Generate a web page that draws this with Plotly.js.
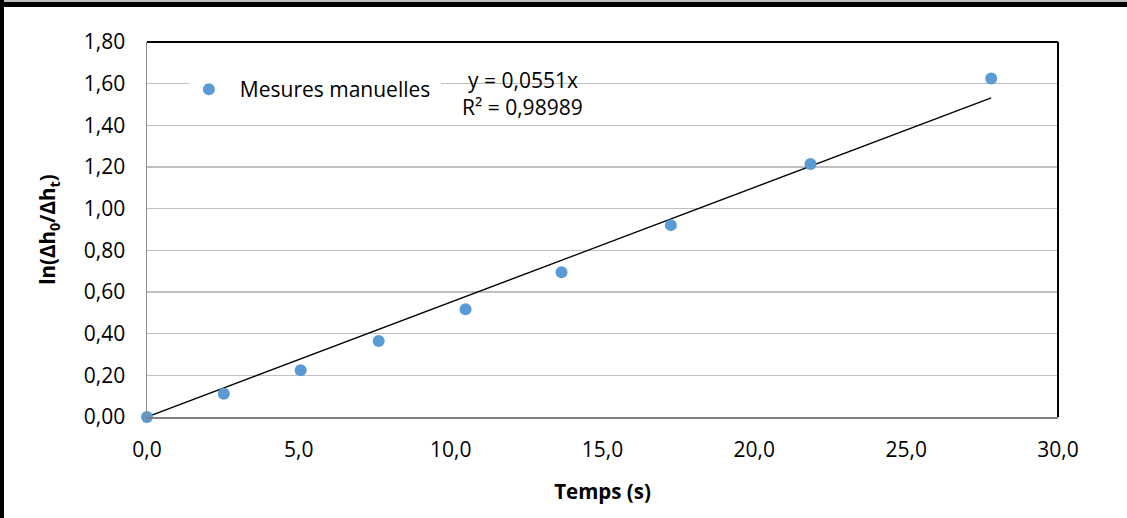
<!DOCTYPE html>
<html>
<head>
<meta charset="utf-8">
<script src="https://cdn.plot.ly/plotly-3.0.1.min.js"></script>
<style>
  html, body { margin: 0; padding: 0; background: #ffffff; }
  #wrap { position: relative; width: 1127px; height: 518px; overflow: hidden; }
  #chart { width: 1127px; height: 518px; }
  .edge { position: absolute; pointer-events: none; }
</style>
</head>
<body>
<div id="wrap">
  <div id="chart"></div>
  <div class="edge" style="left:0;top:0;width:1127px;height:2px;background:#bdbdbd;"></div>
  <div class="edge" style="left:0;top:2px;width:1127px;height:5px;background:#000;"></div>
  <div class="edge" style="left:0;top:0;width:4px;height:518px;background:#000;"></div>
</div>
<script>
// Elapsed time (s) and log of the level-difference ratio
const temps = [0, 2.53, 5.06, 7.63, 10.49, 13.65, 17.25, 21.85, 27.80];
const lnRatio = [0, 0.112, 0.224, 0.365, 0.517, 0.695, 0.921, 1.214, 1.625];

// Linear fit through the origin
const slope = 0.0551;
const r2 = 0.98989;

const xTicks = [0, 5, 10, 15, 20, 25, 30];
const yTicks = [0, 0.2, 0.4, 0.6, 0.8, 1.0, 1.2, 1.4, 1.6, 1.8];

const fmt = (v, d) => v.toFixed(d).replace('.', ',');

const FONT = 'Open Sans, Noto Sans, sans-serif';
const BLUE = '#5B9BD5';
const FS = 21;

const xFit = [0, Math.max(...temps)];
const yFit = xFit.map(x => slope * x);

const traces = [
  {
    x: xFit, y: yFit,
    type: 'scatter', mode: 'lines',
    line: { color: '#000000', width: 1.3 },
    showlegend: false, hoverinfo: 'skip'
  },
  {
    x: temps, y: lnRatio,
    type: 'scatter', mode: 'markers',
    name: '\u00a0\u00a0Mesures manuelles\u00a0',
    marker: { color: BLUE, size: 12 },
    cliponaxis: false
  }
];

const layout = {
  width: 1127, height: 518,
  margin: { l: 147, r: 69, t: 42, b: 101 },
  paper_bgcolor: '#ffffff', plot_bgcolor: '#ffffff',
  separators: ', ',
  font: { family: FONT, size: FS, color: '#000000' },
  showlegend: true,
  legend: {
    x: 0.046, y: 0.873, xanchor: 'left', yanchor: 'middle',
    bgcolor: '#ffffff', borderwidth: 0,
    font: { family: FONT, size: FS, color: '#000000' },
    itemsizing: 'constant'
  },
  xaxis: {
    range: [0, 30],
    tickvals: xTicks,
    ticktext: xTicks.map(v => fmt(v, 1)),
    ticks: '', ticklabelstandoff: 13,
    showgrid: false, zeroline: false,
    showline: true, linecolor: '#808080', linewidth: 2,
    tickfont: { family: FONT, size: FS, color: '#000000' },
    title: { text: '<b>Temps (s)</b>', font: { family: FONT, size: 20.5, color: '#000000' }, standoff: 22 },
    fixedrange: true
  },
  yaxis: {
    range: [0, 1.8],
    tickvals: yTicks,
    ticktext: yTicks.map(v => fmt(v, 2)),
    ticks: '', ticklabelstandoff: 16,
    showgrid: true, gridcolor: '#bfbfbf', gridwidth: 1.3,
    zeroline: false,
    showline: true, linecolor: '#8c8c8c', linewidth: 1.5,
    tickfont: { family: FONT, size: FS, color: '#000000' },
    title: { text: '<b>ln(Δh<sub>0</sub>/Δh<sub>t</sub>)</b>', font: { family: FONT, size: 20.5, color: '#000000' }, standoff: 22 },
    fixedrange: true
  },
  shapes: [
    { type: 'line', xref: 'x domain', yref: 'y domain', x0: 0, x1: 1, y0: 1, y1: 1,
      line: { color: '#000000', width: 2 } },
    { type: 'line', xref: 'x domain', yref: 'y domain', x0: 1, x1: 1, y0: 0, y1: 1,
      line: { color: '#000000', width: 2 } }
  ],
  annotations: [
    { xref: 'x', yref: 'y', x: 12.38, y: 1.617, xanchor: 'center', yanchor: 'middle',
      showarrow: false, text: 'y = ' + fmt(slope, 4) + 'x',
      font: { family: FONT, size: FS, color: '#000000' } },
    { xref: 'x', yref: 'y', x: 12.38, y: 1.487, xanchor: 'center', yanchor: 'middle',
      showarrow: false, text: 'R² = ' + fmt(r2, 5),
      font: { family: FONT, size: FS, color: '#000000' } }
  ]
};

Plotly.newPlot('chart', traces, layout, { staticPlot: true, displayModeBar: false });
</script>
</body>
</html>
